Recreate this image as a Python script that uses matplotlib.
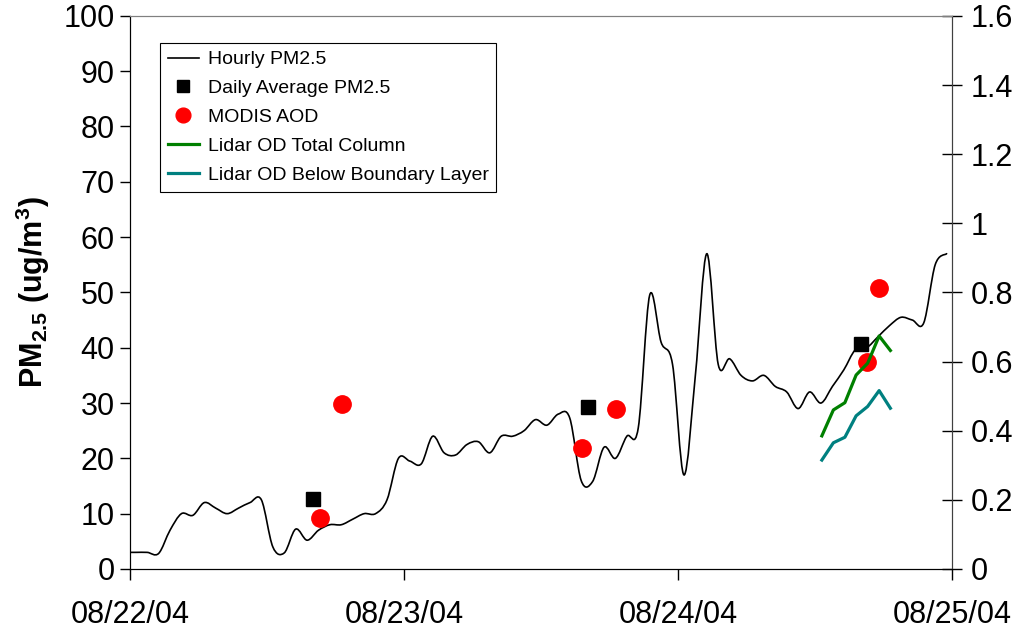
import matplotlib
matplotlib.use('Agg')
import matplotlib.pyplot as plt
from matplotlib.path import Path
from matplotlib.patches import PathPatch
from matplotlib.lines import Line2D
import numpy as np

plt.rcParams['font.family'] = ['Liberation Sans', 'DejaVu Sans']
plt.rcParams['mathtext.fontset'] = 'custom'
plt.rcParams['mathtext.rm'] = 'Liberation Sans'
plt.rcParams['mathtext.bf'] = 'Liberation Sans:bold'

# hourly PM2.5 (ug/m3), one value per hour starting 08/22/04 00:00 (centred on the half hour)
hourly_pm = [3, 3, 3, 2.8, 7, 10, 9.7, 12, 11, 10, 11, 12,
             12.5, 4, 2.9, 7.2, 5.2, 7, 8, 8, 9, 10, 10, 12.5,
             20, 19.5, 19, 24, 21, 20.6, 22.5, 23, 21, 24, 24, 25,
             27, 26, 28, 27.3, 16, 15.8, 22, 20, 24, 25.5, 49.5, 41,
             37, 17, 35, 57, 37, 38, 35, 34, 35, 33, 32, 29,
             32, 30, 33, 36, 39.6, 40, 42, 44, 45.5, 45, 44.5, 55, 57]
hourly_days = (np.arange(len(hourly_pm)) - 0.5) / 24.0

daily_days = [0.668, 1.672, 2.668]
daily_pm = [12.7, 29.3, 40.7]

modis_days = [0.693, 0.774, 1.65, 1.774, 2.69, 2.733]
modis_aod = [0.148, 0.477, 0.35, 0.462, 0.600, 0.814]

lidar_days = [2.524, 2.566, 2.608, 2.649, 2.691, 2.733, 2.774]
lidar_total = [0.385, 0.46, 0.481, 0.561, 0.595, 0.674, 0.632]
lidar_bl = [0.315, 0.365, 0.381, 0.443, 0.470, 0.516, 0.465]

date_labels = ['08/22/04', '08/23/04', '08/24/04', '08/25/04']


def smooth_path(x, y):
    # cubic Bezier through every point, spreadsheet-style smoothed line
    p = np.column_stack([x, y]).astype(float)
    ext = np.vstack([p[0], p, p[-1]])
    verts = [p[0]]
    codes = [Path.MOVETO]
    for i in range(len(p) - 1):
        c1 = p[i] + (ext[i + 2] - ext[i]) / 6.0
        c2 = p[i + 1] - (ext[i + 3] - ext[i + 1]) / 6.0
        verts += [c1, c2, p[i + 1]]
        codes += [Path.CURVE4] * 3
    return Path(verts, codes)


fig = plt.figure(figsize=(10.24, 6.35), dpi=100)
ax = fig.add_axes([0.127, 0.104, 0.803, 0.871])
ax2 = ax.twinx()

ax.add_patch(PathPatch(smooth_path(hourly_days, hourly_pm), fill=False,
                       edgecolor='black', lw=1.2, capstyle='round', joinstyle='round'))
l1 = Line2D([], [], color='black', lw=1.2, label='Hourly PM2.5')
l2, = ax.plot(daily_days, daily_pm, 's', color='black', ms=9.5, label='Daily Average PM2.5')
l3, = ax2.plot(modis_days, modis_aod, 'o', color='#ff0000', ms=12.5, label='MODIS AOD')
l4, = ax2.plot(lidar_days, lidar_total, color='#008000', lw=2.3, label='Lidar OD Total Column')
l5, = ax2.plot(lidar_days, lidar_bl, color='#008080', lw=2.3, label='Lidar OD Below Boundary Layer')

ax.set_xlim(0, 3)
ax.set_ylim(0, 100)
ax2.set_ylim(0, 1.6)
ax.set_xticks(range(4))
ax.set_xticklabels(date_labels)
ax.set_yticks(range(0, 101, 10))
ax2.set_yticks(np.arange(0, 1.61, 0.2))
ax2.set_yticklabels(['%g' % round(v, 1) for v in np.arange(0, 1.61, 0.2)])

ax.tick_params(axis='x', direction='out', length=8, width=1, pad=14, labelsize=22)
ax.tick_params(axis='y', direction='out', length=7, width=1, pad=4, labelsize=22)
ax2.tick_params(axis='y', direction='inout', length=14, width=1, pad=6, labelsize=22)

for a in (ax, ax2):
    a.spines['top'].set_color('#808080')
    a.spines['right'].set_color('#404040')
    a.spines['left'].set_color('black')
    a.spines['bottom'].set_color('black')

ax.set_ylabel(r'PM$_{\mathbf{2.5}}$ (ug/m$^{\mathbf{3}}$)', fontsize=22, fontweight='bold', labelpad=8)

leg = ax2.legend(handles=[l1, l2, l3, l4, l5], loc='upper left',
                 bbox_to_anchor=(0.0365, 0.951), borderaxespad=0, fontsize=14,
                 fancybox=False, framealpha=1, edgecolor='black',
                 handlelength=1.6, handletextpad=0.45, labelspacing=0.58,
                 borderpad=0.4, markerscale=0.85)
leg.get_frame().set_linewidth(0.8)

fig.savefig('out.png', dpi=100)
